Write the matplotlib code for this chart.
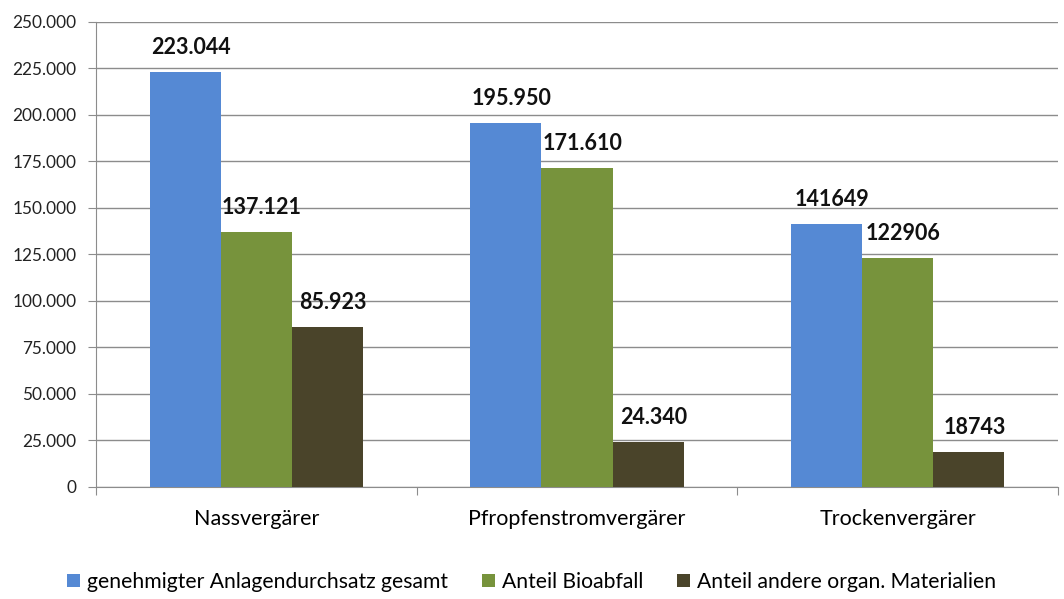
import matplotlib.pyplot as plt
import numpy as np
from matplotlib.ticker import FuncFormatter

FONT = "Lato"
TICK_FONT_SIZE = 12.4
CAT_FONT_SIZE = 15.5
LABEL_FONT_SIZE = 15.5
LEGEND_FONT_SIZE = 15.2
BAR_WIDTH = 0.222

COLOR_TOTAL = "#5589D4"
COLOR_BIO = "#77933C"
COLOR_OTHER = "#4A442A"
GRID_COLOR = "#8C8C8C"

categories = ["Nassvergärer", "Pfropfenstromvergärer", "Trockenvergärer"]
series_names = [
    "genehmigter Anlagendurchsatz gesamt",
    "Anteil Bioabfall",
    "Anteil andere organ. Materialien",
]
total = [223044, 195950, 141649]
bio = [137121, 171610, 122906]
other = [85923, 24340, 18743]
# value labels as printed on the chart
total_labels = ["223.044", "195.950", "141649"]
bio_labels = ["137.121", "171.610", "122906"]
other_labels = ["85.923", "24.340", "18743"]

plt.rcParams["font.family"] = FONT

fig = plt.figure(figsize=(10.64, 5.99), dpi=100)
ax = fig.add_axes([0.0902, 0.187, 0.9042, 0.7763])

x = np.arange(len(categories))
series = [
    (total, total_labels, COLOR_TOTAL, -BAR_WIDTH),
    (bio, bio_labels, COLOR_BIO, 0.0),
    (other, other_labels, COLOR_OTHER, BAR_WIDTH),
]
for (values, texts, color, offset), name in zip(series, series_names):
    rects = ax.bar(x + offset, values, BAR_WIDTH, color=color, label=name, zorder=3)
    for rect, text in zip(rects, texts):
        ax.annotate(
            text,
            xy=(rect.get_x() + rect.get_width() / 2, rect.get_height()),
            xytext=(4, 10),
            textcoords="offset points",
            ha="center",
            va="bottom",
            fontsize=LABEL_FONT_SIZE,
            fontweight="bold",
            color="#111111",
        )

ax.set_xlim(-0.5, len(categories) - 0.5)
ax.set_ylim(0, 250000)
ax.set_yticks(np.arange(0, 250001, 25000))
ax.yaxis.set_major_formatter(
    FuncFormatter(lambda v, _: f"{int(v):,}".replace(",", "."))
)
ax.yaxis.grid(True, color=GRID_COLOR, linewidth=1.0, zorder=0)
ax.set_axisbelow(True)

# category labels sit between boundary ticks
ax.set_xticks(np.arange(-0.5, len(categories)), minor=False)
ax.set_xticklabels([])
ax.set_xticks(x, minor=True)
ax.set_xticklabels(categories, minor=True, fontsize=CAT_FONT_SIZE)
ax.tick_params(axis="x", which="minor", length=0, pad=16)
ax.tick_params(axis="x", which="major", length=6, color=GRID_COLOR)
ax.tick_params(axis="y", length=6, color=GRID_COLOR, labelsize=TICK_FONT_SIZE,
               labelcolor="#222222", pad=8)

for side in ["top", "right"]:
    ax.spines[side].set_visible(False)
ax.spines["left"].set_color(GRID_COLOR)
ax.spines["bottom"].set_color(GRID_COLOR)

fig.legend(
    loc="center",
    bbox_to_anchor=(0.5, 0.028),
    ncol=3,
    frameon=False,
    fontsize=LEGEND_FONT_SIZE,
    handlelength=0.6,
    handleheight=0.6,
    handletextpad=0.35,
    columnspacing=1.6,
)

fig.savefig("out.png", dpi=100)
